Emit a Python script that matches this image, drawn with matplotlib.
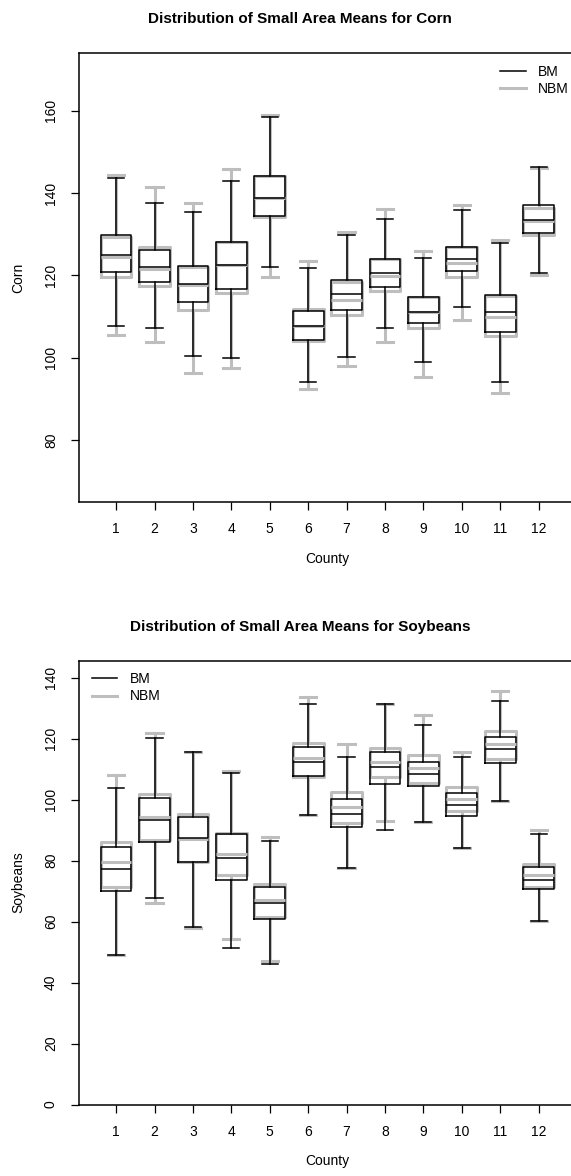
import numpy as np
import matplotlib.pyplot as plt
from matplotlib.lines import Line2D

plt.rcParams['font.family'] = ['Liberation Sans', 'DejaVu Sans']

counties = [str(i) for i in range(1, 13)]

# Corn, BM (black)
corn_bm_lo = [107.8, 107.2, 100.4, 100.0, 122.1, 94.1, 100.1, 107.2, 98.9, 112.3, 94.2, 120.5]
corn_bm_q1 = [120.9, 118.3, 113.5, 116.7, 134.5, 104.3, 111.5, 117.2, 108.4, 121.0, 106.3, 130.3]
corn_bm_med = [125.0, 122.1, 117.9, 122.6, 138.8, 107.8, 115.5, 120.5, 111.2, 124.1, 111.0, 133.5]
corn_bm_q3 = [129.9, 126.1, 122.2, 128.2, 144.2, 111.4, 118.9, 123.9, 114.8, 127.0, 115.2, 137.0]
corn_bm_hi = [143.6, 137.6, 135.4, 143.0, 158.6, 121.7, 129.8, 133.7, 124.2, 135.9, 127.8, 146.4]

# Corn, NBM (grey)
corn_nbm_lo = [105.4, 103.8, 96.2, 97.4, 119.6, 92.3, 98.0, 103.8, 95.4, 109.2, 91.5, 120.0]
corn_nbm_q1 = [119.6, 117.4, 111.6, 115.8, 134.1, 104.1, 110.4, 116.1, 107.2, 119.7, 105.3, 129.8]
corn_nbm_med = [124.4, 121.5, 117.6, 122.6, 138.8, 107.8, 114.0, 119.9, 111.0, 123.0, 110.0, 133.2]
corn_nbm_q3 = [129.4, 126.9, 122.0, 128.2, 144.2, 111.8, 118.5, 124.0, 114.8, 127.0, 115.0, 136.3]
corn_nbm_hi = [144.3, 141.6, 137.6, 145.8, 158.9, 123.4, 130.6, 136.2, 126.0, 137.1, 128.5, 146.2]

# Soybeans, BM (black)
soy_bm_lo = [49.2, 67.9, 58.1, 51.4, 46.0, 95.0, 77.5, 90.1, 92.6, 84.3, 99.6, 60.1]
soy_bm_q1 = [70.0, 86.2, 79.7, 73.7, 60.8, 107.7, 91.0, 105.3, 104.5, 94.6, 112.2, 70.6]
soy_bm_med = [77.1, 93.3, 87.3, 81.0, 66.1, 112.4, 95.4, 110.6, 108.4, 98.4, 116.6, 73.8]
soy_bm_q3 = [84.4, 100.4, 94.4, 88.7, 71.2, 117.4, 100.2, 115.7, 112.4, 102.3, 120.6, 78.0]
soy_bm_hi = [104.0, 120.4, 115.5, 108.8, 86.6, 131.5, 114.0, 131.4, 124.5, 113.9, 132.5, 88.7]

# Soybeans, NBM (grey)
soy_nbm_lo = [49.2, 66.0, 58.0, 54.3, 47.1, 95.0, 77.5, 93.0, 92.6, 84.3, 99.6, 60.1]
soy_nbm_q1 = [71.2, 86.7, 79.7, 75.2, 61.6, 107.5, 92.4, 107.5, 105.5, 96.2, 113.5, 71.4]
soy_nbm_med = [79.4, 94.2, 87.0, 82.1, 67.0, 113.7, 97.7, 112.4, 110.5, 100.1, 118.2, 75.2]
soy_nbm_q3 = [86.1, 102.0, 95.3, 89.1, 72.3, 118.7, 102.6, 117.0, 114.6, 104.2, 122.6, 78.9]
soy_nbm_hi = [108.1, 121.9, 115.5, 109.4, 87.9, 133.6, 118.2, 131.4, 127.9, 115.7, 135.7, 90.2]

W, H = 571, 1176
fig = plt.figure(figsize = (W / 100, H / 100), dpi = 100)


def stats(lo, q1, med, q3, hi):
    return [dict(whislo = a, q1 = b, med = c, q3 = d, whishi = e, fliers = [])
            for a, b, c, d, e in zip(lo, q1, med, q3, hi)]


def draw_group(ax, st, color, lw):
    ax.bxp(st, positions = np.arange(1, 13), widths = 0.8, capwidths = 0.42,
           showfliers = False, manage_ticks = False,
           boxprops = dict(color = color, linewidth = lw),
           medianprops = dict(color = color, linewidth = lw),
           whiskerprops = dict(color = color, linewidth = lw),
           capprops = dict(color = color, linewidth = lw))


def panel(top_px, bottom_px, ylim, yticks, nbm, bm, title, ylabel, leg_xy):
    ax = fig.add_axes([78.5 / W, 1 - bottom_px / H, 497.7 / W, (bottom_px - top_px) / H])
    draw_group(ax, nbm, '#bebebe', 2.2)
    draw_group(ax, bm, 'black', 1.1)
    ax.set_xlim(0.02, 12.98)
    ax.set_ylim(*ylim)
    ax.set_xticks(np.arange(1, 13))
    ax.set_xticklabels(counties)
    ax.set_yticks(yticks)
    ax.tick_params(direction = 'out', length = 5.8, width = 0.9, labelsize = 10, pad = 9)
    for lbl in ax.get_yticklabels():
        lbl.set_rotation(90)
        lbl.set_va('center')
    for s in ax.spines.values():
        s.set_linewidth(1.1)
    fig.text(300 / W, 1 - (top_px - 34) / H, title, ha = 'center', va = 'center',
             fontsize = 11, fontweight = 'bold')
    fig.text(327 / W, 1 - (bottom_px + 57) / H, 'County', ha = 'center', va = 'center', fontsize = 10)
    fig.text(18 / W, 1 - (top_px + bottom_px) / 2 / H, ylabel, ha = 'center', va = 'center',
             rotation = 90, fontsize = 10)
    handles = [Line2D([], [], color = 'black', lw = 1.1),
               Line2D([], [], color = '#bebebe', lw = 2.2)]
    ax.legend(handles, ['BM', 'NBM'], loc = 'upper left', frameon = False, fontsize = 10,
              bbox_to_anchor = (leg_xy[0] / W, 1 - leg_xy[1] / H), bbox_transform = fig.transFigure,
              borderpad = 0, borderaxespad = 0, handlelength = 1.85, handletextpad = 0.9,
              labelspacing = 0.25)
    return ax


panel(53.3, 501.6, (65, 174), [80, 100, 120, 140, 160],
      stats(corn_nbm_lo, corn_nbm_q1, corn_nbm_med, corn_nbm_q3, corn_nbm_hi),
      stats(corn_bm_lo, corn_bm_q1, corn_bm_med, corn_bm_q3, corn_bm_hi),
      'Distribution of Small Area Means for Corn', 'Corn', (500, 64.5))

panel(660.7, 1104.5, (0, 145.6), [0, 20, 40, 60, 80, 100, 120, 140],
      stats(soy_nbm_lo, soy_nbm_q1, soy_nbm_med, soy_nbm_q3, soy_nbm_hi),
      stats(soy_bm_lo, soy_bm_q1, soy_bm_med, soy_bm_q3, soy_bm_hi),
      'Distribution of Small Area Means for Soybeans', 'Soybeans', (91.7, 672))

fig.savefig('out.png', dpi = 100)
